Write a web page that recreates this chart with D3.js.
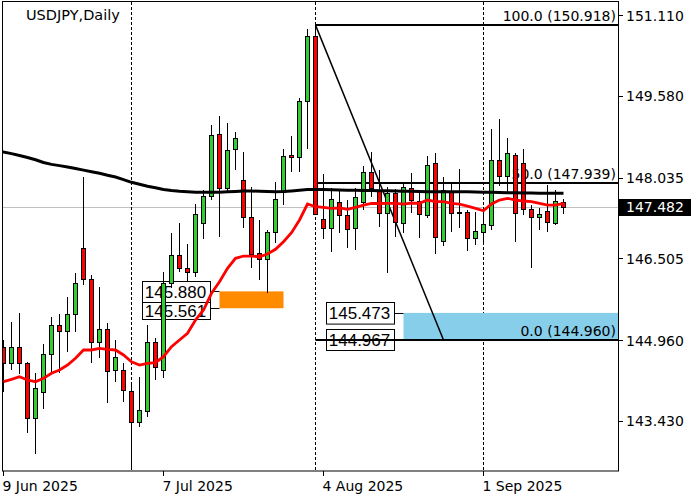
<!DOCTYPE html>
<html><head><meta charset="utf-8">
<script src="https://cdn.jsdelivr.net/npm/d3@7"></script>
<style>body{margin:0;background:#fff}svg{display:block}</style>
</head><body>
<svg id="c" width="700" height="500"></svg>
<script>
const symbolTitle = "USDJPY,Daily";
const dates = [
"2025-06-09","2025-06-10","2025-06-11","2025-06-12","2025-06-13","2025-06-16","2025-06-17","2025-06-18","2025-06-19","2025-06-20",
"2025-06-23","2025-06-24","2025-06-25","2025-06-26","2025-06-27","2025-06-30","2025-07-01","2025-07-02","2025-07-03","2025-07-04",
"2025-07-07","2025-07-08","2025-07-09","2025-07-10","2025-07-11","2025-07-14","2025-07-15","2025-07-16","2025-07-17","2025-07-18",
"2025-07-21","2025-07-22","2025-07-23","2025-07-24","2025-07-25","2025-07-28","2025-07-29","2025-07-30","2025-07-31","2025-08-01",
"2025-08-04","2025-08-05","2025-08-06","2025-08-07","2025-08-08","2025-08-11","2025-08-12","2025-08-13","2025-08-14","2025-08-15",
"2025-08-18","2025-08-19","2025-08-20","2025-08-21","2025-08-22","2025-08-25","2025-08-26","2025-08-27","2025-08-28","2025-08-29",
"2025-09-01","2025-09-02","2025-09-03","2025-09-04","2025-09-05","2025-09-08","2025-09-09","2025-09-10","2025-09-11","2025-09-12",
"2025-09-15"];
const opens = [144.833,144.530,144.833,144.530,143.479,143.970,144.689,145.238,145.125,145.446,
146.695,146.108,144.916,145.174,144.387,144.387,143.995,143.403,143.617,144.916,
144.392,146.033,146.568,146.317,146.241,147.168,147.690,148.852,147.830,148.568,
147.982,147.282,146.600,146.487,147.004,147.760,148.455,148.417,149.482,150.712,
147.244,147.074,147.577,147.319,147.074,147.565,148.133,147.798,147.357,147.736,
147.168,147.830,147.596,147.325,148.303,146.833,147.766,147.376,147.376,146.884,
146.998,147.136,148.366,148.063,148.460,148.303,147.433,147.282,147.401,147.168,
147.565];
const highs = [144.960,145.295,145.465,144.549,144.330,144.884,145.395,145.446,145.774,146.222,
148.050,146.184,145.963,145.276,144.960,144.519,144.141,144.254,145.244,144.992,
146.252,146.979,147.179,146.776,147.528,147.798,149.028,149.198,149.072,148.890,
148.523,147.849,147.231,147.041,147.944,148.574,148.820,149.539,150.839,150.918,
148.101,147.830,147.817,147.609,147.830,148.252,148.511,148.177,147.861,147.811,
147.925,148.126,147.785,148.441,148.504,148.050,147.955,148.190,147.420,147.388,
147.420,148.952,149.141,148.776,148.504,148.568,147.514,147.452,147.893,147.798,
147.622];
const lows = [143.982,144.392,144.317,143.195,142.803,143.655,144.330,144.330,144.739,145.117,
146.001,144.519,144.614,143.762,144.171,143.793,142.563,143.320,143.509,144.203,
144.235,145.938,146.252,146.063,146.158,146.865,147.609,146.903,147.736,148.177,
147.085,146.317,146.095,145.855,146.801,147.514,148.144,148.139,148.574,147.320,
146.865,146.616,146.979,146.695,146.663,147.420,147.671,147.104,146.222,146.915,
146.979,147.357,146.884,147.263,146.587,146.739,147.009,147.070,146.653,146.757,
146.757,147.051,147.874,147.736,146.820,147.325,146.317,147.041,147.009,147.136,
147.338];
const closes = [144.530,144.833,144.530,143.479,144.046,144.689,145.238,145.125,145.446,146.033,
146.108,144.916,145.162,144.368,144.644,144.008,143.403,143.636,144.916,144.449,
146.033,146.563,146.317,146.241,147.338,147.690,148.833,147.830,148.549,148.776,
147.293,146.593,146.487,147.004,147.622,148.441,148.417,149.482,150.712,147.338,
147.074,147.622,147.325,147.054,147.671,148.133,147.830,147.357,147.736,147.187,
147.861,147.609,147.338,148.266,146.903,147.798,147.357,147.369,146.884,147.028,
147.149,148.366,148.063,148.493,147.357,147.433,147.282,147.338,147.198,147.590,
147.482];
const maRed = [144.171,144.216,144.266,144.203,144.171,144.235,144.330,144.392,144.487,144.614,
144.771,144.771,144.803,144.784,144.771,144.676,144.549,144.487,144.519,144.530,
144.644,144.833,144.960,145.087,145.338,145.528,145.844,146.063,146.317,146.506,
146.549,146.549,146.536,146.587,146.676,146.820,146.990,147.231,147.533,147.482,
147.471,147.452,147.458,147.433,147.471,147.514,147.547,147.543,147.547,147.547,
147.533,147.552,147.547,147.609,147.577,147.577,147.547,147.533,147.495,147.452,
147.406,147.533,147.609,147.641,147.609,147.590,147.577,147.547,147.514,147.514,
147.547];
const maBlack = [148.523,148.487,148.451,148.413,148.370,148.320,148.283,148.260,148.235,148.205,
148.175,148.144,148.116,148.078,148.044,147.995,147.944,147.906,147.870,147.840,
147.808,147.789,147.774,147.764,147.757,147.755,147.755,147.757,147.764,147.772,
147.779,147.779,147.775,147.770,147.766,147.768,147.779,147.792,147.808,147.808,
147.808,147.802,147.798,147.794,147.792,147.789,147.789,147.785,147.783,147.779,
147.775,147.774,147.770,147.766,147.764,147.764,147.764,147.766,147.764,147.760,
147.757,147.755,147.751,147.747,147.745,147.741,147.741,147.738,147.736,147.736,
147.736];
const priceTicks = [151.110, 149.580, 148.035, 146.505, 144.960, 143.430];
const dateTickDates = ["2025-06-09","2025-07-07","2025-08-04","2025-09-01"];
const lastPrice = 147.482;
const fibHigh = 150.918, fibLow = 144.960;
const fibStartDate = "2025-08-01", fibEndDate = "2025-08-25";
const fibLevels = [100, 50, 0];
const orangeZone = [145.880, 145.561];
const orangeZoneDates = ["2025-07-16", "2025-07-28"];
const blueZone = [145.473, 144.967];
const blueZoneDate = "2025-08-18";

const svg = d3.select("#c");
const L = 2, R = 618, T = 2, B = 471;
const x = d3.scaleLinear().domain([0, dates.length - 1]).range([3.5, 3.5 + 8 * (dates.length - 1)]);
const y = d3.scaleLinear().domain([144.96, 151.11]).range([340, 15]);
const idx = d => dates.indexOf(d);
const py = p => Math.round(y(p)) + 0.5;
const FONT = "DejaVu Sans, Verdana, sans-serif";
const LFONT = "Liberation Sans, Arial, sans-serif";

svg.append("defs").append("clipPath").attr("id","clip")
  .append("rect").attr("x", L).attr("y", T).attr("width", R - L).attr("height", B - T);
const plot = svg.append("g").attr("clip-path","url(#clip)");

// current price grey line
plot.append("line").attr("x1", L).attr("x2", R).attr("y1", py(lastPrice)).attr("y2", py(lastPrice))
  .attr("stroke","#c0c0c0").attr("stroke-width",1);

// month separators
const sepIdx = dates.map((d,i)=>i).filter(i => i > 0 && dates[i].slice(5,7) !== dates[i-1].slice(5,7));
plot.selectAll("line.sep").data(sepIdx).join("line").attr("class","sep")
  .attr("x1", i => x(i)).attr("x2", i => x(i)).attr("y1", T).attr("y2", B)
  .attr("stroke","#000").attr("stroke-width",1).attr("stroke-dasharray","3,2");

// zones
const oX1 = x(idx(orangeZoneDates[0])), oX2 = x(idx(orangeZoneDates[1]));
plot.append("rect").attr("x", oX1).attr("width", oX2 - oX1)
  .attr("y", y(orangeZone[0])).attr("height", y(orangeZone[1]) - y(orangeZone[0])).attr("fill","#ff8c00");
const bX1 = x(idx(blueZoneDate));
plot.append("rect").attr("x", bX1).attr("width", R - bX1)
  .attr("y", y(blueZone[0])).attr("height", y(blueZone[1]) - y(blueZone[0])).attr("fill","#87ceeb");

// price label boxes (upper box drawn last, lower box placed just below it)
function priceLabels(prices, rectX) {
  const bw = 68, bh = 21.6, bx = rectX - 10 - bw;
  prices.forEach(p => {
    plot.append("line").attr("x1", bx + bw).attr("x2", rectX).attr("y1", py(p)).attr("y2", py(p))
      .attr("stroke","#000").attr("stroke-width",1);
  });
  const tops = [];
  prices.forEach((p, k) => {
    let top = y(p) - bh / 2;
    if (k > 0 && top < tops[k-1] + bh) top = tops[k-1] + bh;
    tops.push(top);
  });
  prices.forEach((p, k) => {
    const g = plot.append("g");
    const top = Math.round(tops[k]);
    const bottom = k > 0 ? Math.max(Math.round(y(p) + bh / 2), top + 17) : top + bh;
    g.append("rect").attr("x", Math.round(bx)+0.5).attr("y", top + 0.5)
      .attr("width", bw).attr("height", bottom - top).attr("fill","#fff").attr("stroke","#000").attr("stroke-width",1);
    g.append("text").attr("x", bx + bw/2).attr("y", (top + bottom) / 2 + 6).attr("text-anchor","middle")
      .attr("font-family", LFONT).attr("font-size", 17).attr("fill","#000").text(p.toFixed(3));
  });
}
priceLabels(orangeZone, oX1);
priceLabels(blueZone, bX1);

// fibonacci
const fX1 = x(idx(fibStartDate)), fX2 = x(idx(fibEndDate));
plot.append("line").attr("x1", fX1).attr("y1", y(fibHigh)).attr("x2", fX2).attr("y2", y(fibLow))
  .attr("stroke","#000").attr("stroke-width",1.5);
fibLevels.forEach(l => {
  const p = fibLow + (fibHigh - fibLow) * l / 100;
  plot.append("line").attr("x1", fX1).attr("x2", R).attr("y1", Math.round(y(p))).attr("y2", Math.round(y(p)))
    .attr("stroke","#000").attr("stroke-width",2);
  plot.append("text").attr("x", R - 2).attr("y", y(p) - 4).attr("text-anchor","end")
    .attr("font-family", FONT).attr("font-size", 14).attr("fill","#000")
    .text(l.toFixed(1) + " (" + p.toFixed(3) + ")");
});

// candles
const bars = dates.map((d,i)=>({i, o:opens[i], h:highs[i], l:lows[i], c:closes[i]}));
const cg = plot.append("g");
bars.forEach(b => {
  const cx = Math.floor(x(b.i)) + 0.5;
  cg.append("line").attr("x1", cx).attr("x2", cx).attr("y1", Math.round(y(b.h))).attr("y2", Math.round(y(b.l)))
    .attr("stroke","#000").attr("stroke-width",1);
  const top = Math.round(y(Math.max(b.o,b.c))), bot = Math.round(y(Math.min(b.o,b.c)));
  cg.append("rect").attr("x", cx - 2).attr("width", 4).attr("y", top + 0.5).attr("height", Math.max(bot - top, 0.01))
    .attr("fill", b.c >= b.o ? "#32cd32" : "#ff0000").attr("stroke","#000").attr("stroke-width",1);
});

// moving averages
const line = d3.line().x((d,i)=>x(i)).y(d=>y(d));
plot.append("path").datum(maBlack).attr("d", d3.line().x((d,i)=> i===0 ? L : x(i)).y(d=>y(d)))
  .attr("fill","none").attr("stroke","#000").attr("stroke-width",3);
plot.append("path").datum(maRed).attr("d", line)
  .attr("fill","none").attr("stroke","#ff0000").attr("stroke-width",2.8);

// frame
svg.append("rect").attr("x", L + 0.5).attr("y", T - 0.5).attr("width", R - L).attr("height", B - T + 0.5)
  .attr("fill","none").attr("stroke","#000").attr("stroke-width",1);

// title
svg.append("text").attr("x", 26).attr("y", 20).attr("font-family", FONT).attr("font-size", 14.5)
  .attr("fill","#000").text(symbolTitle);

// y axis
priceTicks.forEach(p => {
  svg.append("line").attr("x1", R).attr("x2", R + 5).attr("y1", py(p)).attr("y2", py(p)).attr("stroke","#000");
  svg.append("text").attr("x", 626).attr("y", y(p) + 5.5).attr("font-family", FONT).attr("font-size", 14)
    .attr("fill","#000").text(p.toFixed(3));
});
svg.append("rect").attr("x", 619).attr("y", Math.round(y(lastPrice)) - 8).attr("width", 72).attr("height", 17).attr("fill","#000");
svg.append("text").attr("x", 626).attr("y", y(lastPrice) + 5.5).attr("font-family", FONT).attr("font-size", 14)
  .attr("fill","#fff").text(lastPrice.toFixed(3));

// x axis
const fmt = d3.timeFormat("%-d %b %Y"), parse = d3.timeParse("%Y-%m-%d");
dateTickDates.forEach(d => {
  const xi = Math.floor(x(idx(d))) + 0.5;
  svg.append("line").attr("x1", xi).attr("x2", xi).attr("y1", B).attr("y2", B + 5).attr("stroke","#000");
  svg.append("text").attr("x", xi - 1).attr("y", 491).attr("font-family", FONT).attr("font-size", 14)
    .attr("fill","#000").text(fmt(parse(d)));
});
</script>
</body></html>
